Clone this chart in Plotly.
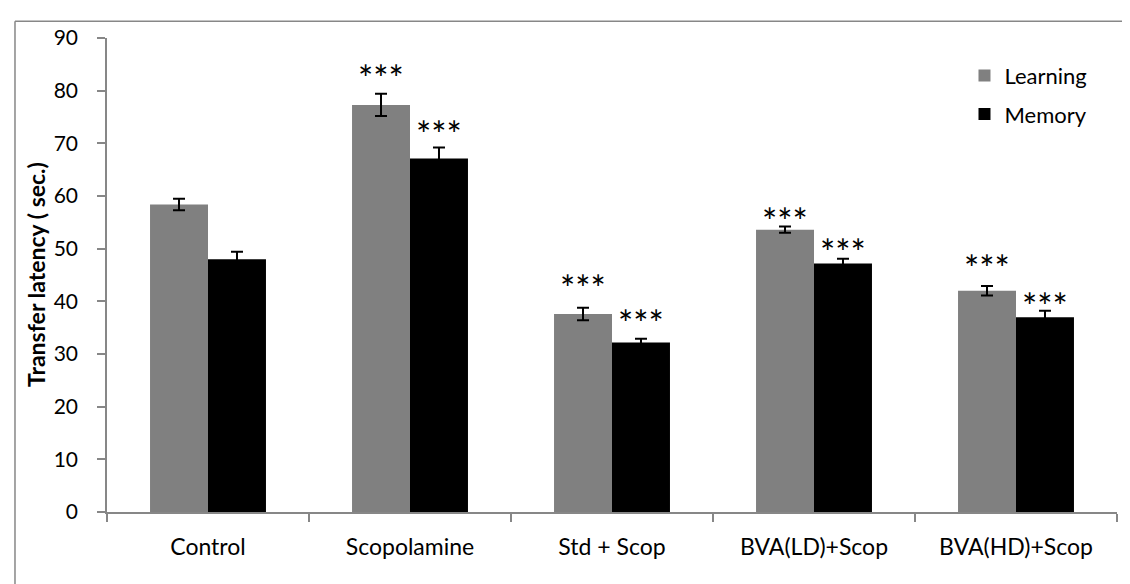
import plotly.graph_objects as go

categories = ["Control", "Scopolamine", "Std + Scop", "BVA(LD)+Scop", "BVA(HD)+Scop"]
learning = [58.4, 77.3, 37.6, 53.6, 42.0]
learning_err = [1.1, 2.1, 1.2, 0.6, 0.9]
memory = [48.0, 67.1, 32.2, 47.2, 37.0]
memory_err = [1.4, 2.1, 0.7, 0.9, 1.2]
# significance labels ("***") and their vertical positions (data units)
learning_sig = ["", "***", "***", "***", "***"]
learning_sig_y = [0, 82.5, 42.5, 55.3, 46.3]
memory_sig = ["", "***", "***", "***", "***"]
memory_sig_y = [0, 71.7, 35.9, 49.3, 39.2]
y_ticks = [0, 10, 20, 30, 40, 50, 60, 70, 80, 90]

FONT = "Lato"
AXIS_COLOR = "#878787"

fig = go.Figure()
fig.add_trace(go.Bar(
    name="Learning", x=categories, y=learning,
    marker=dict(color="#808080", line=dict(width=0)),
    error_y=dict(type="data", array=learning_err, color="black", thickness=2, width=6),
    legendgroup="a",
))
fig.add_trace(go.Bar(
    name="Memory", x=categories, y=memory,
    marker=dict(color="#000000", line=dict(width=0)),
    error_y=dict(type="data", array=memory_err, color="black", thickness=2, width=6),
    legendgroup="b",
))

annotations = []
for cat, s, yv in zip(categories, learning_sig, learning_sig_y):
    if s:
        annotations.append(dict(x=cat, y=yv, xref="x", yref="y", text=s, showarrow=False,
                                xshift=-29, font=dict(family=FONT, size=36, color="black")))
for cat, s, yv in zip(categories, memory_sig, memory_sig_y):
    if s:
        annotations.append(dict(x=cat, y=yv, xref="x", yref="y", text=s, showarrow=False,
                                xshift=29, font=dict(family=FONT, size=36, color="black")))

# y-axis title
annotations.append(dict(x=0, y=0.5, xref="paper", yref="paper", xshift=-71,
                        xanchor="center", yanchor="middle",
                        text="<b>Transfer latency ( sec.)</b>", textangle=-90, showarrow=False,
                        font=dict(family=FONT, size=23, color="black")))

fig.update_layout(
    width=1130, height=584,
    margin=dict(l=99, r=21, t=30, b=80),
    paper_bgcolor="white", plot_bgcolor="white",
    barmode="group", bargap=0.426, bargroupgap=0,
    font=dict(family=FONT, size=20, color="black"),
    showlegend=True,
    legend=dict(x=0.849, y=0.965, xanchor="left", yanchor="top",
                font=dict(family=FONT, size=22, color="black"),
                tracegroupgap=7, itemwidth=30, bgcolor="rgba(0,0,0,0)"),
    annotations=annotations,
    shapes=[
        dict(type="line", xref="paper", yref="paper", x0=-0.0911, x1=-0.0911, y0=-0.2, y1=1.0355,
             line=dict(color=AXIS_COLOR, width=1.5)),
        dict(type="line", xref="paper", yref="paper", x0=-0.0911, x1=1.05, y0=1.0355, y1=1.0355,
             line=dict(color=AXIS_COLOR, width=1.5)),
    ],
)
fig.update_xaxes(
    showline=True, linecolor=AXIS_COLOR, linewidth=1.5,
    ticks="outside", tickson="boundaries", ticklen=8, tickcolor=AXIS_COLOR, tickwidth=1.5,
    showgrid=False, ticklabelstandoff=14,
    tickfont=dict(family=FONT, size=23, color="black"),
)
fig.update_yaxes(
    range=[0, 90], tickmode="array", tickvals=y_ticks,
    showline=True, linecolor=AXIS_COLOR, linewidth=1.5,
    ticks="outside", ticklen=8, tickcolor=AXIS_COLOR, tickwidth=1.5,
    showgrid=False, zeroline=False, ticklabelstandoff=15,
    tickfont=dict(family=FONT, size=21, color="black"),
)

fig.write_html("out.html")
